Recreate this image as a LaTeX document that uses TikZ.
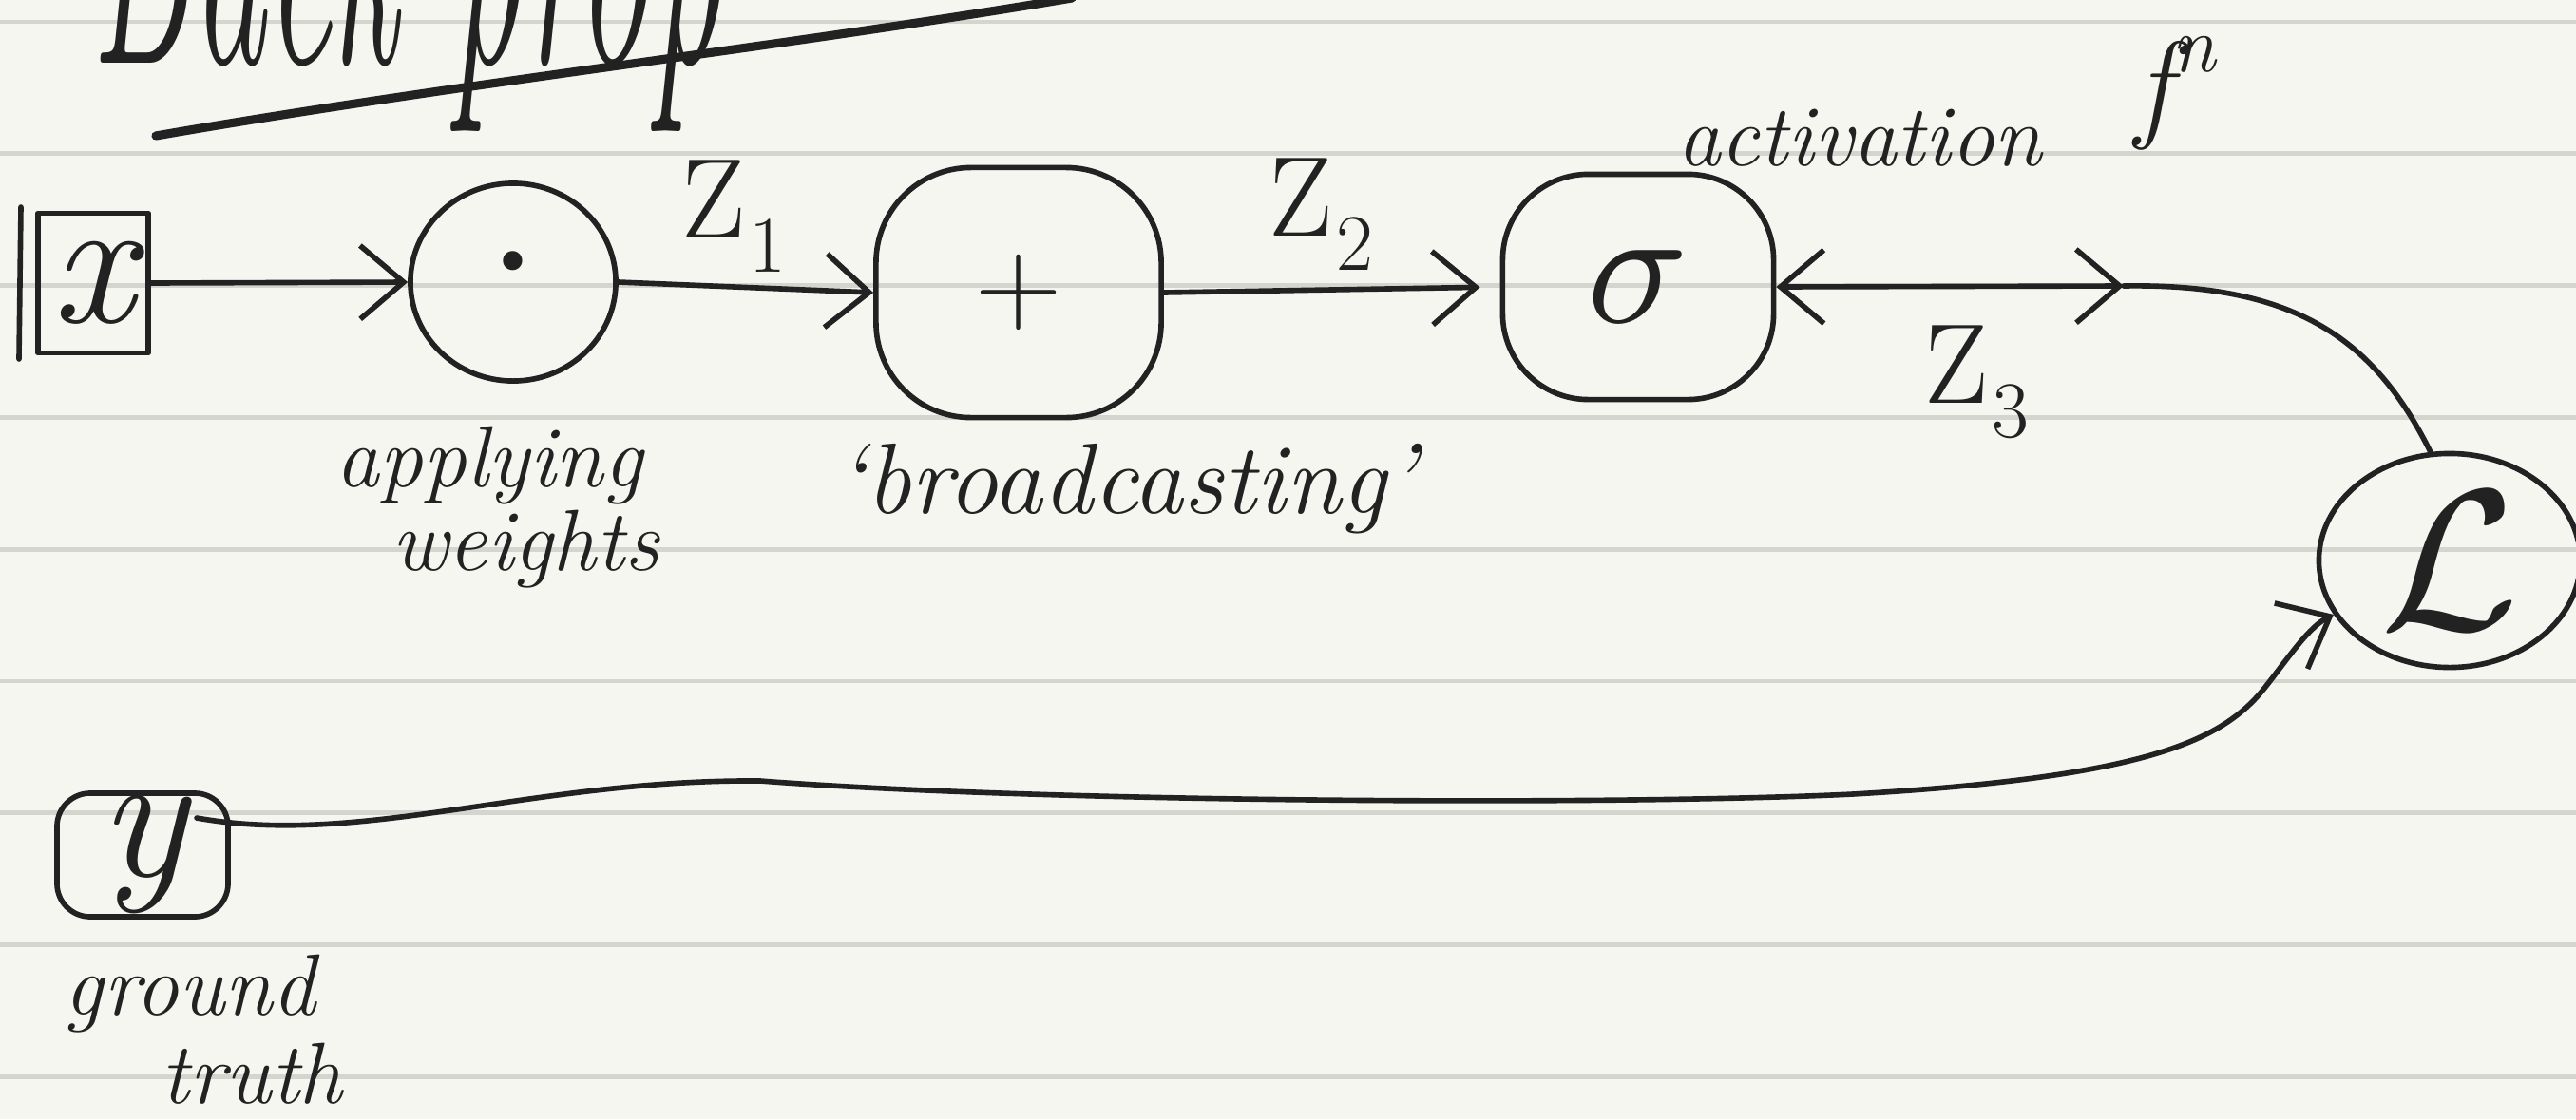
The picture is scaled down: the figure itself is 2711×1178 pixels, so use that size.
\documentclass[tikz,border=0pt]{standalone}
\usepackage{fontspec}
\usepackage{graphicx}
\newfontfamily\symf{DejaVu Serif}
\usetikzlibrary{arrows.meta,shapes.geometric}
\definecolor{bgc}{HTML}{F5F6F0}
\definecolor{rulec}{HTML}{D4D5CE}
\definecolor{inkc}{HTML}{222222}
\tikzset{
  ink/.style={draw=inkc, line width=1.6pt, line cap=round, line join=round},
  barb/.tip={Straight Barb[length=13pt,width=22pt,line width=1.6pt]},
  conn/.style={ink, -barb},
  opnode/.style={ink, inner sep=0pt, text=inkc},
  hand/.style={text=inkc, font=\fontsize{26}{30}\selectfont\itshape, inner sep=0pt},
  zlab/.style={text=inkc, font=\fontsize{34}{38}\selectfont, inner sep=0pt},
}
\newcommand{\zsub}[2]{Z\kern1pt\raisebox{-0.3em}{\fontsize{24}{26}\selectfont #2}}
\begin{document}
\begin{tikzpicture}[x=0.01cm,y=-0.01cm]
\path[use as bounding box, fill=bgc] (0,0) rectangle (2711,1178);
\clip (0,0) rectangle (2711,1178);
% ruled paper
\foreach \yy in {23,161.8,300.6,439.4,578.2,717,855.8,994.6,1133.4}
  \draw[rulec, line width=1.4pt] (0,\yy) -- (2711,\yy);

% title (cut off at the top)
\node[text=inkc, font=\fontsize{44}{50}\selectfont\itshape, anchor=base west, inner sep=0pt] (title) at (95,66) {\scalebox{1}[2.4]{Back prop}};
\coordinate (ulA) at (164,143);
\coordinate (ulB) at (1128,-2);
\draw[ink, line width=2.6pt] (ulA) .. controls (500,85) and (820,50) .. (ulB);

% nodes
\node[opnode, rectangle, minimum width=1.16cm, minimum height=1.47cm, font=\fontsize{55}{60}\selectfont\itshape] (x) at (98,298) {x};
\coordinate (xbA) at (22,218);
\coordinate (xbB) at (20,378);
\draw[ink] (xbA) -- (xbB);

\node[opnode, ellipse, minimum width=2.16cm, minimum height=2.08cm, font=\fontsize{44}{48}\selectfont\symf] (dot) at (540,297) {·};
\node[opnode, rectangle, rounded corners=1cm, minimum width=3.0cm, minimum height=2.63cm, font=\fontsize{36}{40}\selectfont] (plus) at (1072,308) {+};
\node[opnode, rectangle, rounded corners=0.9cm, minimum width=2.85cm, minimum height=2.37cm] (sigma) at (1724,302) {\scalebox{5}{$\sigma$}};
\node[opnode, ellipse, minimum width=2.75cm, minimum height=2.25cm] (L) at (2578,590) {\scalebox{6}{$\mathcal{L}$}};
\node[opnode, rectangle, rounded corners=0.35cm, minimum width=1.8cm, minimum height=1.3cm, font=\fontsize{55}{60}\selectfont\itshape] (y) at (150,900) {y};

% labels
\node[hand] (applying) at (515,490) {applying};
\node[hand] (weights) at (553,578) {weights};
\node[hand, font=\fontsize{30}{34}\selectfont\itshape] (bcast) at (1185,515) {‘broadcasting’};
\node[hand] (activ) at (1957,145) {activation};
\node[zlab, font=\fontsize{36}{40}\selectfont\itshape] (fn) at (2290,98) {f\raisebox{0.45em}{\fontsize{24}{26}\selectfont n}};
\node[hand] (ground) at (200,1046) {ground};
\node[hand] (truth) at (265,1130) {truth};
\node[zlab] (z1) at (772,228) {\zsub Z1};
\node[zlab] (z2) at (1390,226) {\zsub Z2};
\node[zlab] (z3) at (2080,402) {\zsub Z3};

% connectors
\draw[conn] (x.east) -- (dot.west);
\draw[conn] (dot.east) -- (plus.west);
\draw[conn, shorten >=6pt] (plus.east) -- (sigma.west);
\coordinate (m1) at (2235,301);
\draw[ink, barb-barb] (sigma.east) -- (m1);
\draw[ink] (m1) .. controls (2420,298) and (2500,360) .. (L.100);
\coordinate (ystart) at (207,861);
\draw[conn] (ystart) .. controls (380,892) and (560,820) .. (800,822)
  .. controls (1100,845) and (1700,848) .. (1950,836)
  .. controls (2260,818) and (2340,780) .. (2385,722)
  .. controls (2410,690) and (2430,660) .. (L.205);
\end{tikzpicture}
\end{document}
